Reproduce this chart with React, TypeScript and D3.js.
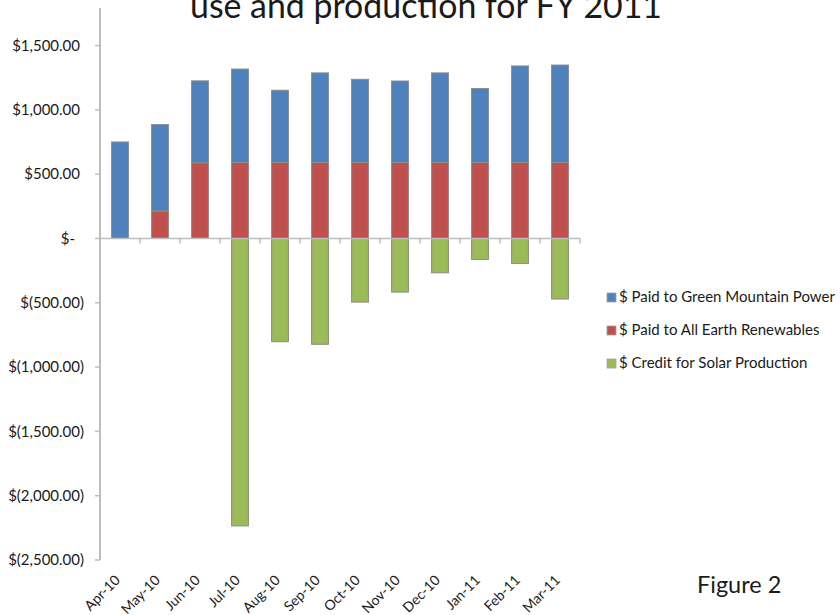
import React from "react";
import * as d3 from "d3";

// Monthly electricity costs and solar credits, FY 2011
const months = ["Apr-10", "May-10", "Jun-10", "Jul-10", "Aug-10", "Sep-10", "Oct-10", "Nov-10", "Dec-10", "Jan-11", "Feb-11", "Mar-11"];
// Bar totals above zero (Green Mountain Power stacked on All Earth)
const allEarth = [0, 214, 588, 590, 590, 590, 590, 590, 590, 590, 590, 590];
const greenMountain = [750, 671, 637, 727, 562, 697, 647, 634, 697, 575, 751, 758];
const solarCredit = [0, 0, 0, -2235, -803, -823, -495, -417, -267, -163, -194, -471];

const seriesNames = ["$ Paid to Green Mountain Power", "$ Paid to All Earth Renewables", "$ Credit for Solar Production"];
const seriesColors = ["#4F81BD", "#C0504D", "#9BBB59"];
const yTicks = [1500, 1000, 500, 0, -500, -1000, -1500, -2000, -2500];

const FONT = "Lato, 'Open Sans', sans-serif";

function fmtMoney(v: number): string {
  if (v === 0) return "$-";
  const s = d3.format(",.2f")(Math.abs(v));
  return v < 0 ? `$(${s})` : `$${s}`;
}

export default function App() {
  const width = 840;
  const height = 615;
  const axisX = 100;
  const axisTop = 8;
  const x = d3.scaleBand<string>().domain(months).range([100, 580]).padding(0);
  const y = d3.scaleLinear().domain([-2500, 1500]).range([560, 45.5]);
  const barW = x.bandwidth() * 0.42;
  const bx = (m: string) => (x(m) as number) + (x.bandwidth() - barW) / 2;
  const y0 = y(0);
  const stroke = "#8a8a8a";
  const axisColor = "#bdbdbd";

  const tickEdges = d3.range(months.length + 1).map((i) => 100 + i * x.step());

  return (
    <svg width={width} height={height} style={{ position: "absolute", left: 0, top: 0, background: "#fff" }} fontFamily={FONT}>
      <rect width={width} height={height} fill="#fff" />
      {/* Title (second line) */}
      <text x={190} y={18} fontSize={34} fill="#1a1a1a" textLength={472} lengthAdjust="spacingAndGlyphs">
        use and production for FY 2011
      </text>

      {/* bars */}
      {months.map((m, i) => (
        <g key={m}>
          {allEarth[i] > 0 && (
            <rect x={bx(m)} y={y(allEarth[i])} width={barW} height={y0 - y(allEarth[i])} fill={seriesColors[1]} stroke={stroke} strokeWidth={1} />
          )}
          {greenMountain[i] > 0 && (
            <rect x={bx(m)} y={y(allEarth[i] + greenMountain[i])} width={barW} height={y(allEarth[i]) - y(allEarth[i] + greenMountain[i])} fill={seriesColors[0]} stroke={stroke} strokeWidth={1} />
          )}
          {solarCredit[i] < 0 && (
            <rect x={bx(m)} y={y0} width={barW} height={y(solarCredit[i]) - y0} fill={seriesColors[2]} stroke={stroke} strokeWidth={1} />
          )}
        </g>
      ))}

      {/* y axis */}
      <line x1={axisX} x2={axisX} y1={axisTop} y2={y(-2500)} stroke={axisColor} strokeWidth={2} />
      {yTicks.map((t) => (
        <g key={t}>
          <line x1={axisX - 5} x2={axisX} y1={y(t)} y2={y(t)} stroke={axisColor} strokeWidth={1.5} />
          <text x={t < 0 ? 84 : t === 0 ? 75 : 80} y={y(t)} dy="0.35em" textAnchor="end" fontSize={15} fill="#1a1a1a">
            {fmtMoney(t)}
          </text>
        </g>
      ))}

      {/* x axis at zero */}
      <line x1={axisX} x2={580} y1={y0} y2={y0} stroke={axisColor} strokeWidth={1.5} />
      {tickEdges.map((tx, i) => (
        <line key={i} x1={tx} x2={tx} y1={y0} y2={y0 + 5} stroke={axisColor} strokeWidth={1.5} />
      ))}

      {/* category labels, low position */}
      {months.map((m) => {
        const cx = (x(m) as number) + x.bandwidth() / 2 + 1;
        const cy = 581;
        return (
          <text key={m} x={cx} y={cy} textAnchor="end" fontSize={14} fill="#1a1a1a" transform={`rotate(-45 ${cx} ${cy})`}>
            {m}
          </text>
        );
      })}

      {/* legend */}
      {seriesNames.map((name, i) => (
        <g key={name} transform={`translate(607, ${293 + i * 33})`}>
          <rect x={0} y={0} width={9} height={9} fill={seriesColors[i]} stroke="#a0a0a0" strokeWidth={0.8} />
          <text x={12} y={9} fontSize={15} fill="#1a1a1a">
            {name}
          </text>
        </g>
      ))}

      <text x={697} y={593} fontSize={23.5} fill="#1a1a1a">
        Figure 2
      </text>
    </svg>
  );
}
